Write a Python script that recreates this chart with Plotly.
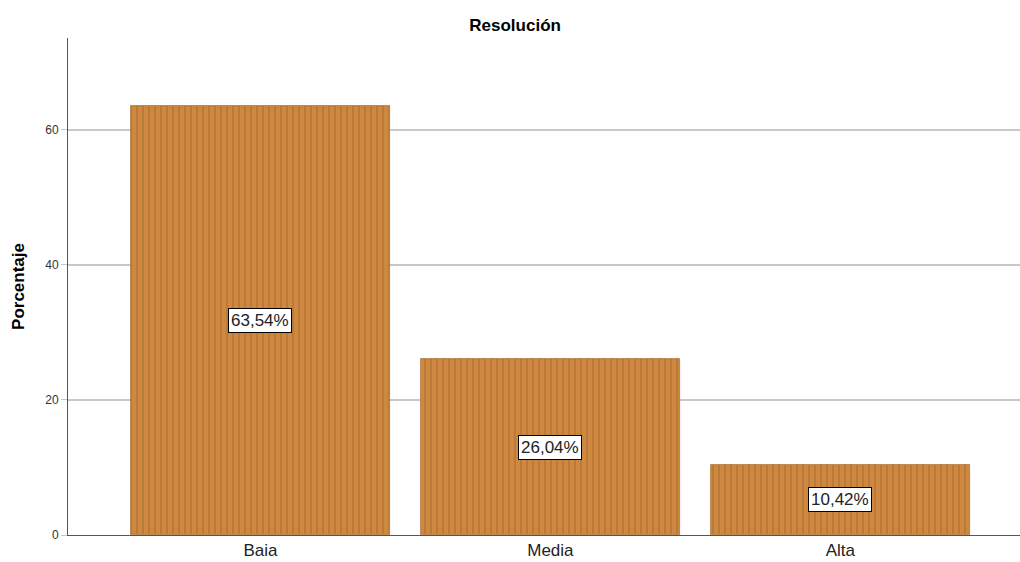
import plotly.graph_objects as go

categories = ["Baia", "Media", "Alta"]
values = [63.54, 26.04, 10.42]
labels = ["63,54%", "26,04%", "10,42%"]
y_ticks = [0, 20, 40, 60]

xs = list(range(len(categories)))

fig = go.Figure()
fig.add_trace(go.Bar(
    x=xs, y=values, width=0.893,
    marker=dict(
        color="#CF8840",
        line=dict(color="#B07438", width=0.8),
        pattern=dict(shape="|", size=6, solidity=0.12, fgcolor="#5a3a1a", fgopacity=0.5),
    ),
    hoverinfo="skip",
))

for x, v, t in zip(xs, values, labels):
    fig.add_annotation(
        x=x, y=v / 2, text=t, showarrow=False,
        font=dict(family="Liberation Sans, Arial", size=17, color="#222"),
        bgcolor="white", bordercolor="black", borderwidth=1, borderpad=2,
    )

fig.update_layout(
    width=1020, height=562,
    margin=dict(l=68, r=0, t=38, b=27),
    paper_bgcolor="white", plot_bgcolor="white",
    showlegend=False,
    title=dict(text="<b>Resolución</b>", x=0.505, xanchor="center", y=0.955, yanchor="middle",
               font=dict(family="Liberation Sans, Arial", size=17, color="black")),
    font=dict(family="Liberation Sans, Arial", color="#222"),
    xaxis=dict(
        range=[-0.664, 2.62], tickmode="array", tickvals=xs, ticktext=categories,
        tickfont=dict(size=17, color="#222"), showgrid=False, zeroline=False,
        showline=True, linecolor="#555", linewidth=1, ticks="", automargin=False,
    ),
    yaxis=dict(
        range=[0, 73.6], tickmode="array", tickvals=y_ticks,
        tickfont=dict(size=12, color="#333"),
        showgrid=True, gridcolor="#c8c8c8", gridwidth=1.5, zeroline=False,
        showline=True, linecolor="#555", linewidth=1,
        ticks="outside", ticklen=6, tickcolor="#c8c8c8",
        title=dict(text="<b>Porcentaje</b>", font=dict(size=17, color="black"), standoff=16),
        automargin=False,
    ),
    bargap=0,
)

fig.write_html("out.html")
